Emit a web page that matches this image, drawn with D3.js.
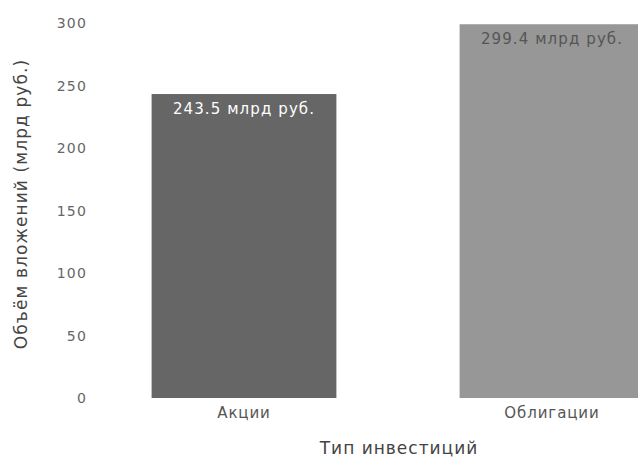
<!DOCTYPE html>
<html><head><meta charset="utf-8">
<script src="https://cdn.jsdelivr.net/npm/d3@7"></script>
<style>body{margin:0;background:#fff}text{font-family:"DejaVu Sans",Verdana,sans-serif}</style>
</head><body><svg id="c" width="638" height="457"></svg>
<script>
const categories = ["Акции", "Облигации"];
const values = [243.5, 299.4];
const valueLabels = ["243.5 млрд руб.", "299.4 млрд руб."];
const yTicks = [0, 50, 100, 150, 200, 250, 300];
const barColors = ["#666666", "#979797"];
const labelColors = ["#ffffff", "#555555"];

const svg = d3.select("#c");
const x = d3.scaleBand().domain(categories).range([90, 706]).paddingInner(0.4).paddingOuter(0.2);
const y = d3.scaleLinear().domain([0, 300]).range([398, 23.5]);

const yAxis = svg.append("g").attr("transform", "translate(90,0)")
  .call(d3.axisLeft(y).tickValues(yTicks).tickSize(0).tickPadding(3));
yAxis.select(".domain").remove();
yAxis.selectAll("text").attr("fill", "#666").style("font-size", "14px").style("letter-spacing", "1.2px");

svg.selectAll("rect.bar").data(values).join("rect").attr("class", "bar")
  .attr("x", (d, i) => x(categories[i])).attr("width", x.bandwidth())
  .attr("y", d => y(d)).attr("height", d => y(0) - y(d))
  .attr("fill", (d, i) => barColors[i]);

svg.selectAll("text.vl").data(values).join("text").attr("class", "vl")
  .attr("x", (d, i) => x(categories[i]) + x.bandwidth() / 2)
  .attr("y", d => y(d) + 20)
  .attr("text-anchor", "middle").attr("fill", (d, i) => labelColors[i])
  .style("font-size", "15px").style("letter-spacing", "1.1px")
  .text((d, i) => valueLabels[i]);

const xAxis = svg.append("g").attr("transform", "translate(0,398)")
  .call(d3.axisBottom(x).tickSize(0).tickPadding(9));
xAxis.select(".domain").remove();
xAxis.selectAll("text").attr("fill", "#555").style("font-size", "15px").style("letter-spacing", "0.9px");

svg.append("text").attr("x", 399).attr("y", 454).attr("text-anchor", "middle")
  .attr("fill", "#444").style("font-size", "17px").style("letter-spacing", "1px").text("Тип инвестиций");

svg.append("text").attr("transform", "translate(27,204) rotate(-90)").attr("text-anchor", "middle")
  .attr("fill", "#444").style("font-size", "17px").style("letter-spacing", "1.1px").text("Объём вложений (млрд руб.)");
</script></body></html>
